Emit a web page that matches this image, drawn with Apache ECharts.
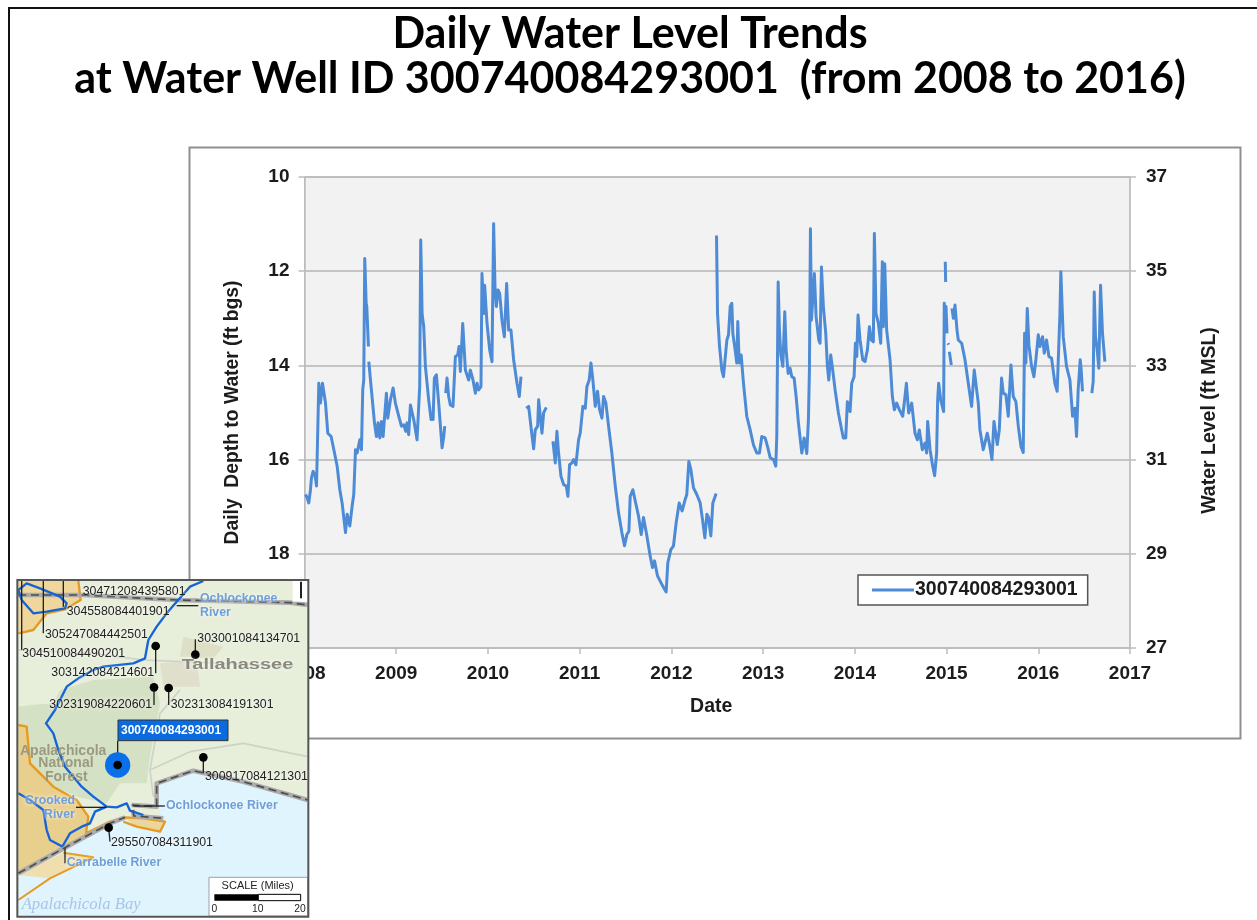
<!DOCTYPE html>
<html>
<head>
<meta charset="utf-8">
<style>html,body{margin:0;padding:0;background:#fff}#c{width:1257px;height:920px}</style>
<script src="https://cdn.jsdelivr.net/npm/echarts@6/dist/echarts.min.js"></script>
</head>
<body>
<div id="c"></div>
<script>
const wellId = '300740084293001';
const yearTicks = [2008, 2009, 2010, 2011, 2012, 2013, 2014, 2015, 2016, 2017];

// Daily depth to water (ft bgs) as [decimal year, depth]; each list is one unbroken stretch of record.
const record2008a = [[2008.011,16.74],[2008.029,16.81],[2008.047,16.92],[2008.065,16.64],[2008.076,16.39],[2008.094,16.25],[2008.116,16.35],[2008.131,16.56],[2008.149,16.56],[2008.156,14.38],[2008.174,14.80],[2008.196,14.38],[2008.211,14.38],[2008.229,14.80],[2008.254,15.44],[2008.290,15.51],[2008.320,15.79],[2008.356,16.14],[2008.385,16.64],[2008.410,16.92],[2008.447,17.55],[2008.465,17.16],[2008.494,17.41],[2008.519,16.99],[2008.537,16.74],[2008.556,15.79],[2008.574,15.86],[2008.603,15.58],[2008.621,15.79],[2008.635,14.52],[2008.646,14.31],[2008.657,11.73],[2008.668,11.70],[2008.672,12.68],[2008.679,12.75],[2008.697,13.60]];
const record2008b = [[2008.701,13.92],[2008.726,14.45],[2008.763,15.22],[2008.784,15.51],[2008.802,15.22],[2008.821,15.54],[2008.839,15.19],[2008.857,15.51],[2008.875,15.54],[2008.893,14.59],[2008.908,15.12],[2008.937,14.73],[2008.966,14.48],[2008.991,14.80],[2009.028,15.08],[2009.057,15.29],[2009.082,15.26],[2009.104,15.40],[2009.118,15.22],[2009.136,15.47],[2009.155,14.84],[2009.173,14.84],[2009.191,15.15],[2009.227,15.58],[2009.242,15.61],[2009.256,14.45],[2009.267,11.34],[2009.274,11.98],[2009.282,12.90],[2009.300,13.18],[2009.318,14.02],[2009.354,14.73],[2009.380,15.15],[2009.402,15.15],[2009.416,14.27],[2009.438,14.20],[2009.463,14.80],[2009.500,15.75],[2009.518,15.51],[2009.529,15.29]];
const record2009 = [[2009.540,14.59],[2009.554,14.27],[2009.572,14.66],[2009.590,14.84],[2009.619,14.87],[2009.645,13.81],[2009.670,13.78],[2009.685,13.60],[2009.699,14.13],[2009.725,13.11],[2009.754,14.10],[2009.790,14.31],[2009.808,14.10],[2009.837,14.31],[2009.863,14.59],[2009.881,14.38],[2009.899,14.52],[2009.924,14.45],[2009.935,12.05],[2009.953,12.90],[2009.964,12.30],[2009.990,13.11],[2010.019,13.67],[2010.044,13.92],[2010.062,10.99],[2010.077,12.33],[2010.091,12.75],[2010.110,12.40],[2010.128,12.47],[2010.153,13.04],[2010.179,13.39],[2010.204,12.26],[2010.226,13.25],[2010.251,13.25],[2010.280,13.88],[2010.317,14.38],[2010.342,14.66],[2010.360,14.24]];
const record2010 = [[2010.418,14.91],[2010.444,14.87],[2010.473,15.37],[2010.498,15.77],[2010.516,15.37],[2010.542,15.29],[2010.553,14.73],[2010.571,15.08],[2010.589,15.44],[2010.607,15.01],[2010.636,14.89]];
const record2011 = [[2010.709,15.61],[2010.734,16.07],[2010.752,15.40],[2010.770,15.86],[2010.796,16.35],[2010.825,16.53],[2010.854,16.56],[2010.872,16.78],[2010.890,16.11],[2010.916,16.07],[2010.934,16.00],[2010.959,16.11],[2010.988,15.58],[2011.006,15.44],[2011.035,14.87],[2011.061,14.91],[2011.079,14.45],[2011.104,14.31],[2011.123,13.95],[2011.144,14.31],[2011.170,14.87],[2011.195,14.55],[2011.217,14.94],[2011.243,15.12],[2011.261,14.66],[2011.286,14.80],[2011.315,15.29],[2011.351,15.86],[2011.388,16.56],[2011.424,17.13],[2011.460,17.55],[2011.489,17.83],[2011.515,17.59],[2011.537,17.52],[2011.551,16.78],[2011.580,16.64],[2011.606,16.88],[2011.642,17.20],[2011.671,17.59],[2011.696,17.23],[2011.733,17.62],[2011.769,18.05],[2011.794,18.29],[2011.816,18.15],[2011.849,18.47],[2011.896,18.65],[2011.943,18.81],[2011.961,18.19],[2011.994,17.91],[2012.023,17.83],[2012.052,17.34],[2012.085,16.92],[2012.117,17.09],[2012.150,16.85],[2012.168,16.74],[2012.190,16.04],[2012.212,16.21],[2012.241,16.60],[2012.277,16.74],[2012.314,16.92],[2012.339,17.27],[2012.365,17.66],[2012.387,17.16],[2012.405,17.23],[2012.430,17.62],[2012.452,16.92],[2012.488,16.72]];
const record2012 = [[2012.492,11.24],[2012.503,12.90],[2012.525,13.60],[2012.550,14.10],[2012.568,14.24],[2012.605,13.46],[2012.623,13.35],[2012.641,12.75],[2012.659,12.68],[2012.670,13.32],[2012.695,13.67],[2012.713,13.95],[2012.724,13.07],[2012.739,13.95],[2012.761,13.78],[2012.786,14.38],[2012.822,15.08],[2012.859,15.37],[2012.895,15.69],[2012.931,15.86],[2012.960,15.86],[2012.986,15.51],[2013.022,15.54],[2013.048,15.72],[2013.077,15.96],[2013.113,16.00],[2013.138,16.14],[2013.149,15.51],[2013.164,12.23],[2013.178,13.25],[2013.193,13.78],[2013.215,14.02],[2013.236,12.86],[2013.251,13.67],[2013.273,14.17],[2013.294,14.06],[2013.313,14.24],[2013.338,14.27],[2013.360,14.66],[2013.385,15.22],[2013.422,15.86],[2013.447,15.54],[2013.476,15.87],[2013.494,15.15],[2013.505,14.10],[2013.516,11.10],[2013.527,13.04],[2013.541,13.04],[2013.559,12.05],[2013.578,12.97],[2013.607,13.46],[2013.621,13.53],[2013.636,11.91],[2013.657,12.75],[2013.683,13.32],[2013.701,14.02],[2013.716,14.31],[2013.737,13.78],[2013.759,14.10],[2013.785,14.52],[2013.821,15.01],[2013.857,15.37],[2013.875,15.54],[2013.901,15.54],[2013.919,14.77],[2013.948,14.98],[2013.966,14.38],[2013.992,14.24],[2014.006,13.53],[2014.021,13.81],[2014.035,12.93],[2014.057,13.46],[2014.086,13.88],[2014.111,13.92],[2014.137,13.67],[2014.159,13.18],[2014.180,13.46],[2014.202,13.50],[2014.213,11.20],[2014.231,12.90],[2014.257,13.11],[2014.282,13.53],[2014.300,11.80],[2014.311,13.18],[2014.326,11.84],[2014.337,11.84],[2014.347,13.25],[2014.384,13.88],[2014.409,14.66],[2014.431,14.94],[2014.456,14.80],[2014.485,14.94],[2014.522,15.08],[2014.547,14.66],[2014.562,14.38],[2014.587,15.01],[2014.620,14.80],[2014.656,15.44],[2014.682,15.58],[2014.703,15.37],[2014.736,15.79],[2014.765,15.65],[2014.783,15.86],[2014.794,15.19],[2014.820,15.79],[2014.849,16.14],[2014.870,16.34],[2014.892,15.86],[2014.903,14.73],[2014.914,14.38],[2014.936,14.73],[2014.968,14.98],[2014.975,12.68],[2014.986,13.04],[2014.994,12.75],[2015.005,13.32]];
const record2014Spike = [[2014.986,11.80],[2014.990,12.23]];
const record2015Dot = [[2015.015,13.53],[2015.023,13.56]];
const record2015Short = [[2015.030,13.71],[2015.052,13.99]];
const record2015 = [[2015.059,12.79],[2015.074,13.00],[2015.092,12.72],[2015.103,12.68],[2015.114,13.25],[2015.128,13.46],[2015.165,13.53],[2015.201,13.88],[2015.237,14.38],[2015.273,14.87],[2015.302,14.10],[2015.317,14.06],[2015.346,14.80],[2015.364,15.37],[2015.400,15.79],[2015.419,15.79],[2015.444,15.44],[2015.466,15.65],[2015.495,16.00],[2015.517,15.19],[2015.553,15.68],[2015.575,15.37],[2015.600,14.27],[2015.618,14.59],[2015.647,14.62],[2015.673,15.08],[2015.702,13.99],[2015.727,14.66],[2015.756,14.77],[2015.782,15.29],[2015.811,15.72],[2015.836,15.85],[2015.851,13.32],[2015.865,13.95],[2015.880,12.79],[2015.898,13.57],[2015.927,14.02],[2015.952,14.24],[2015.974,13.88],[2016.000,13.35],[2016.018,13.60],[2016.047,13.39],[2016.065,13.74],[2016.090,13.46],[2016.116,13.81],[2016.145,13.85],[2016.181,14.38],[2016.206,14.55],[2016.225,14.52],[2016.236,12.90],[2016.246,12.01],[2016.261,12.05],[2016.272,13.39],[2016.308,14.02],[2016.345,14.31],[2016.374,15.08],[2016.399,14.91],[2016.417,15.51],[2016.435,14.52],[2016.457,13.88],[2016.468,14.10],[2016.482,14.55]];
const record2016 = [[2016.584,14.59],[2016.599,14.34],[2016.610,12.44],[2016.624,13.39],[2016.642,13.67],[2016.660,14.06],[2016.679,12.30],[2016.700,13.32],[2016.726,13.92]];

const stretches = [record2008a, record2008b, record2009, record2010, record2011, record2012, record2014Spike, record2015Dot, record2015Short, record2015, record2016];

// Gaps in the record: a null depth breaks the line.
const seriesData = [];
stretches.forEach(s => { s.forEach(p => seriesData.push(p)); seriesData.push([s[s.length - 1][0], null]); });

const LINE = '#4d8bd6', AXIS = '#bdbdbd', INK = '#1c1c1c';
const mapLabels = [
  ['304712084395801',218,66],['304558084401901',170,124],['305247084442501',105,195],['304510084490201',37,252],
  ['303142084214601',124,308],['303001084134701',562,206],['302319084220601',118,403],['302313084191301',482,403],
  ['300917084121301',585,620],['295507084311901',303,818]
];
const riverLabels = [['Ochlockonee',570,87],['River',570,128],['Crooked',45,692],['River',102,735],['Ochlockonee River',468,708],['Carrabelle River',170,878]];
const forestLabels = [['Apalachicola',30,542],['National',85,580],['Forest',105,622]];
const wellDots = [[437,228],[556,254],[432,352],[476,354],[580,562],[296,773]];
const leaders = [
  [[437,228],[437,310]],[[556,254],[556,208]],[[432,352],[432,405]],[[476,354],[476,405]],[[580,562],[580,610]],[[296,773],[300,815]],
  [[100,32],[100,190]],[[35,32],[35,240]],[[160,32],[160,110]],[[500,107],[565,107]],[[198,712],[290,712]],[[370,708],[465,708]],[[165,835],[165,880]],[[323,512],[323,580]]
];
const poly = (points, fill, z2) => ({type:'polygon', shape:{points}, style:{fill}, z2});
const line = (points, stroke, lineWidth, lineDash, z2) => ({type:'polyline', shape:{points}, style:{stroke, lineWidth, lineDash, fill:null, lineJoin:'round'}, z2});
const txt = (text, x, y, fontSize, fill, extra, z2, scaleX) => ({type:'text', x, y, scaleX:scaleX||1, z2:z2||30, style:Object.assign({text, fontSize, fill, fontFamily:'Liberation Sans', verticalAlign:'middle', align:'left'}, extra||{})});

const roadA = [[25,75],[215,75],[500,90],[840,98],[893,105]];
const roadB = [[25,910],[170,830],[300,760],[345,742]];
const roadC = [[365,705],[440,710],[440,640],[550,602],[700,635],[893,690]];
const roadD = [[368,720],[372,738],[460,745]];
const river1 = [[580,33],[540,50],[500,95],[470,130],[440,170],[415,210],[405,265],[370,280],[280,290],[250,300],[205,325],[170,350],[135,420],[108,460],[130,490],[145,540],[165,590],[190,620],[215,650],[250,680],[290,710],[320,712],[350,700],[360,722],[400,735]];
const river2 = [[290,710],[255,725],[240,760],[215,770],[180,790],[158,828]];
const river3 = [[25,670],[60,690],[100,720],[110,780],[120,810],[158,830]];
const river4 = [[25,60],[50,40],[90,55],[150,80],[170,100],[165,115],[110,125],[70,130],[35,90],[25,60]];

const mapChildren = [
  {type:'rect', shape:{x:22,y:30,width:873,height:1010}, style:{fill:'#e7eeda'}, z2:1},
  poly([[25,410],[60,405],[130,400],[150,360],[250,330],[430,320],[450,400],[420,560],[410,640],[330,640],[290,700],[200,680],[130,650],[60,580],[50,470],[25,465]], '#d5e1c5', 2),
  poly([[450,280],[560,270],[570,350],[460,350]], '#e0dfcb', 2),
  poly([[520,200],[640,230],[610,265],[510,260]], '#dfdfc6', 2),
  poly([[25,465],[50,470],[60,580],[130,650],[200,690],[235,740],[228,790],[300,755],[170,830],[25,910]], '#e9cf8e', 3),
  poly([[25,910],[160,850],[250,860],[120,925],[25,990]], '#f0dfae', 3),
  poly([[25,33],[205,33],[212,90],[165,118],[110,130],[70,180],[25,190]], '#efd79c', 3),
  poly([[25,915],[120,925],[250,862],[160,848],[260,780],[330,745],[365,745],[460,770],[452,745],[440,640],[550,600],[700,635],[893,690],[893,1038],[25,1038]], '#dff4fd', 4),
  poly([[345,745],[400,745],[465,755],[450,785],[380,770]], '#ecd69b', 4),
  line([[25,465],[50,470],[60,580],[130,650],[200,690],[235,740],[228,790],[300,755],[345,742],[400,745],[465,755],[450,785],[380,770],[340,755]], '#e59a22', 7, null, 5),
  line([[25,190],[70,180],[110,130],[165,118],[212,90],[205,33]], '#e59a22', 7, null, 5),
  line([[25,990],[120,925],[250,862],[160,848]], '#e59a22', 6, null, 5),
  line([[25,240],[250,250],[400,270],[520,275],[850,290]], '#cfd3c6', 5, null, 5),
  line([[430,680],[420,600],[450,430],[510,360]], '#cfd3c6', 5, null, 5),
  line([[420,600],[540,545],[700,520],[893,560]], '#cfd3c6', 5, null, 5),
  ...[roadA, roadB, roadC, roadD].map(r => line(r, '#ababab', 14, null, 6)),
  ...[roadA, roadB, roadC, roadD].map(r => line(r, '#4d4d4d', 5, [24,14], 7)),
  ...[river1, river2, river3, river4].map(r => line(r, '#1463d8', 7, null, 8)),
  {type:'rect', shape:{x:848,y:33,width:45,height:62}, style:{fill:'#fff'}, z2:9},
  line([[873,35],[873,85]], '#222', 6, null, 10),
  ...leaders.map(l => line(l, '#222', 4, null, 11)),
  {type:'circle', shape:{cx:323,cy:585,r:38}, style:{fill:'#0a6fe8'}, z2:12},
  {type:'circle', shape:{cx:323,cy:585,r:13}, style:{fill:'#000'}, z2:13},
  ...wellDots.map(d => ({type:'circle', shape:{cx:d[0],cy:d[1],r:13}, style:{fill:'#000'}, z2:13})),
  {type:'rect', shape:{x:324,y:450,width:330,height:62}, style:{fill:'#0a6be0', stroke:'#333', lineWidth:3}, z2:14},
  txt(wellId, 333, 481, 36, '#fff', {fontWeight:'bold'}),
  txt('Tallahassee', 515, 283, 46, '#8a8a7c', {fontWeight:'bold', textShadowColor:'#fff', textShadowBlur:4}, 30, 1.3),
  ...forestLabels.map(l => txt(l[0], l[1], l[2], 42, '#9a9a80', {fontWeight:'bold'})),
  ...mapLabels.map(l => txt(l[0], l[1], l[2], 37, '#222', {textShadowColor:'#fff', textShadowBlur:4})),
  ...riverLabels.map(l => txt(l[0], l[1], l[2], 37, '#6f9fd8', {fontWeight:'bold', textShadowColor:'#fff', textShadowBlur:4})),
  txt('Apalachicola Bay', 35, 1005, 50, '#a8c5e8', {fontFamily:'Liberation Serif', fontStyle:'italic'}),
  {type:'rect', shape:{x:597,y:922,width:296,height:116}, style:{fill:'#fff', stroke:'#777', lineWidth:2}, z2:20},
  {type:'rect', shape:{x:613,y:973,width:132,height:19}, style:{fill:'#000'}, z2:21},
  {type:'rect', shape:{x:745,y:973,width:127,height:19}, style:{fill:'#fff', stroke:'#000', lineWidth:3}, z2:21},
  txt('SCALE (Miles)', 743, 948, 33, '#222', {align:'center'}),
  txt('0', 613, 1018, 31, '#222', {align:'center'}),
  txt('10', 743, 1018, 31, '#222', {align:'center'}),
  txt('20', 870, 1018, 31, '#222', {align:'center'}),
  {type:'rect', shape:{x:22,y:30,width:873,height:1010}, style:{fill:null, stroke:'#555', lineWidth:6}, z2:40}
];

const chart = echarts.init(document.getElementById('c'), null, {renderer:'canvas'});
chart.setOption({
  animation:false,
  backgroundColor:'#fff',
  textStyle:{fontFamily:'Liberation Sans'},
  title:{
    text:'Daily Water Level Trends\nat Water Well ID ' + wellId + '  (from 2008 to 2016)',
    left:625, top:7, textAlign:'center',
    textStyle:{fontFamily:'Lato', fontWeight:'bold', fontSize:43, lineHeight:45, color:'#000'}
  },
  grid:{left:304.5, top:177, width:825.5, height:471, show:true, backgroundColor:'#f2f2f2', borderColor:AXIS, borderWidth:1, containLabel:false},
  legend:{
    left:858, top:575, padding:[5,10,5,14], itemWidth:42, itemHeight:12, icon:'path://M0,5H42V8H0Z',
    backgroundColor:'#fff', borderColor:'#555', borderWidth:1.5,
    textStyle:{fontFamily:'Liberation Sans', fontSize:19.5, fontWeight:'bold', color:INK, padding:[0,0,0,-4]},
    data:[wellId]
  },
  xAxis:{
    type:'value', min:yearTicks[0], max:yearTicks[yearTicks.length-1], interval:1,
    name:'Date', nameLocation:'middle', nameGap:49,
    nameTextStyle:{fontSize:19.5, fontWeight:'bold', color:INK, padding:[0,12,0,0]},
    axisLine:{onZero:false, lineStyle:{color:AXIS, width:1.5}}, axisTick:{show:true, length:6, lineStyle:{color:AXIS, width:1.5}},
    axisLabel:{fontSize:19, fontWeight:'bold', color:INK, margin:16, formatter:v => String(v)},
    splitLine:{show:false}
  },
  yAxis:[
    {type:'value', inverse:true, min:10, max:20, interval:2, position:'left',
     name:'Daily  Depth to Water (ft bgs)', nameLocation:'middle', nameGap:62,
     nameTextStyle:{fontSize:19.3, fontWeight:'bold', color:INK, padding:[0,0,0,0]},
     axisLine:{show:true, onZero:false, lineStyle:{color:AXIS, width:1.5}}, axisTick:{show:true, length:6, lineStyle:{color:AXIS, width:1.5}},
     axisLabel:{fontSize:19, fontWeight:'bold', color:INK, margin:15},
     splitLine:{show:true, lineStyle:{color:'#b5b5b5', width:1.5}}},
    {type:'value', min:27, max:37, interval:2, position:'right',
     name:'Water Level (ft MSL)', nameLocation:'middle', nameGap:70, nameRotate:90,
     nameTextStyle:{fontSize:19.5, fontWeight:'bold', color:INK, padding:[0,16,0,0]},
     axisLine:{show:true, onZero:false, lineStyle:{color:AXIS, width:1.5}}, axisTick:{show:true, length:6, lineStyle:{color:AXIS, width:1.5}},
     axisLabel:{fontSize:19, fontWeight:'bold', color:INK, margin:16},
     splitLine:{show:false}}
  ],
  series:[{name:wellId, type:'line', showSymbol:false, symbol:'none', connectNulls:false, smooth:false,
    lineStyle:{color:LINE, width:3, join:'round'}, itemStyle:{color:LINE}, xAxisIndex:0, yAxisIndex:0, data:seriesData, z:5}],
  graphic:[
    {type:'rect', z:-10, silent:true, shape:{x:189.5,y:147.5,width:1051,height:591}, style:{fill:'#fff', stroke:'#8f8f8f', lineWidth:2}},
    {type:'polyline', z:-10, silent:true, shape:{points:[[9,920],[9,8],[1257,8]]}, style:{stroke:'#111', lineWidth:2, fill:null}},
    {type:'group', x:10, y:570, scaleX:1/3, scaleY:1/3, z:100, silent:true, children:mapChildren.map(c => Object.assign({z:100}, c))}
  ]
});
</script>
</body>
</html>
